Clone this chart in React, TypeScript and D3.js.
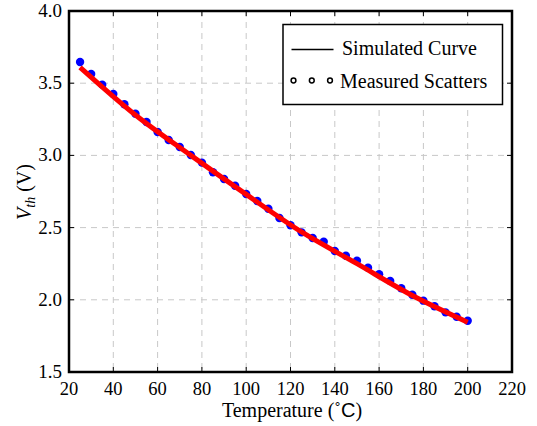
import React from "react";
import * as d3 from "d3";

const temps = [25, 30, 35, 40, 45, 50, 55, 60, 65, 70, 75, 80, 85, 90, 95, 100, 105, 110, 115, 120, 125, 130, 135, 140, 145, 150, 155, 160, 165, 170, 175, 180, 185, 190, 195, 200];
const measured = [3.647, 3.564, 3.49, 3.425, 3.354, 3.289, 3.231, 3.162, 3.107, 3.058, 3.003, 2.95, 2.883, 2.837, 2.79, 2.733, 2.684, 2.631, 2.566, 2.516, 2.467, 2.428, 2.402, 2.338, 2.305, 2.271, 2.222, 2.177, 2.13, 2.08, 2.035, 1.994, 1.955, 1.913, 1.883, 1.855];
const simTemps = [25, 50, 75, 100, 125, 150, 175, 200];
const simValues = [3.61, 3.28, 3.0, 2.73, 2.47, 2.25, 2.03, 1.845];
const xTicks = [20, 40, 60, 80, 100, 120, 140, 160, 180, 200, 220];
const yTicks = [1.5, 2.0, 2.5, 3.0, 3.5, 4.0];
const legendLabels = ["Simulated Curve", "Measured Scatters"];

const W = 537, H = 426;
const L = 69, R = 512, T = 11, B = 372;
const FONT = "Liberation Serif, Times New Roman, Times, DejaVu Serif, serif";

export default function App() {
  const x = d3.scaleLinear().domain([20, 220]).range([L, R]);
  const y = d3.scaleLinear().domain([1.5, 4.0]).range([B, T]);
  const line = d3
    .line<number>()
    .x((_, i) => x(simTemps[i]))
    .y((d) => y(d))
    .curve(d3.curveMonotoneX);
  const fmt = d3.format(".1f");
  const tickLen = 5;
  const ts = { fontFamily: FONT } as React.CSSProperties;

  return (
    <svg
      width={W}
      height={H}
      style={{ position: "absolute", left: 0, top: 0, background: "#fff", fontFamily: FONT }}
    >
      <rect x={0} y={0} width={W} height={H} fill="#fff" />
      {xTicks.slice(1, -1).map((t) => (
        <line key={"gx" + t} x1={x(t)} x2={x(t)} y1={T} y2={B} stroke="#c8c8c8" strokeWidth={1} strokeDasharray="6,5" />
      ))}
      {yTicks.slice(1, -1).map((t) => (
        <line key={"gy" + t} x1={L} x2={R} y1={y(t)} y2={y(t)} stroke="#c8c8c8" strokeWidth={1} strokeDasharray="6,5" />
      ))}
      {measured.map((v, i) => (
        <circle key={"p" + i} cx={x(temps[i])} cy={y(v)} r={4.2} fill="#0000ff" />
      ))}
      <path d={line(simValues) || ""} fill="none" stroke="#ff0000" strokeWidth={5} strokeLinecap="butt" />
      {xTicks.map((t) => (
        <g key={"tx" + t}>
          <line x1={x(t)} x2={x(t)} y1={B} y2={B - tickLen} stroke="#000" strokeWidth={1} />
          <line x1={x(t)} x2={x(t)} y1={T} y2={T + tickLen} stroke="#000" strokeWidth={1} />
          <text x={x(t)} y={395} textAnchor="middle" style={ts} fontSize={18.5} fill="#000">
            {t}
          </text>
        </g>
      ))}
      {yTicks.map((t) => (
        <g key={"ty" + t}>
          <line x1={L} x2={L + tickLen} y1={y(t)} y2={y(t)} stroke="#000" strokeWidth={1} />
          <line x1={R} x2={R - tickLen} y1={y(t)} y2={y(t)} stroke="#000" strokeWidth={1} />
          <text x={62} y={y(t) + 6} textAnchor="end" style={ts} fontSize={19} fill="#000">
            {fmt(t)}
          </text>
        </g>
      ))}
      <rect x={L} y={T} width={R - L} height={B - T} fill="none" stroke="#000" strokeWidth={2.5} />
      <rect x={283} y={24.5} width={219.5} height={80} fill="#fff" stroke="#000" strokeWidth={1.5} />
      <line x1={291.5} x2={333.5} y1={49.5} y2={49.5} stroke="#000" strokeWidth={1.5} />
      <text x={342} y={55} style={ts} fontSize={20} fill="#000">
        {legendLabels[0]}
      </text>
      {[293.5, 311.8, 330].map((cx, i) => (
        <circle key={"lc" + i} cx={cx} cy={80.5} r={2.4} fill="none" stroke="#000" strokeWidth={1.5} />
      ))}
      <text x={340} y={87.5} style={ts} fontSize={20} fill="#000">
        {legendLabels[1]}
      </text>
      <text x={292} y={416.5} textAnchor="middle" style={ts} fontSize={20} fill="#000">
        Temperature (<tspan>˚</tspan>
        <tspan style={{ fontFamily: "Liberation Sans, Arial, sans-serif" }}>C</tspan>)
      </text>
      <text transform={`translate(31,192) rotate(-90)`} textAnchor="middle" style={ts} fontSize={20} fill="#000">
        <tspan fontStyle="italic">V</tspan>
        <tspan fontStyle="italic" fontSize={14} dy={4}>th</tspan>
        <tspan dy={-4}> (V)</tspan>
      </text>
    </svg>
  );
}
